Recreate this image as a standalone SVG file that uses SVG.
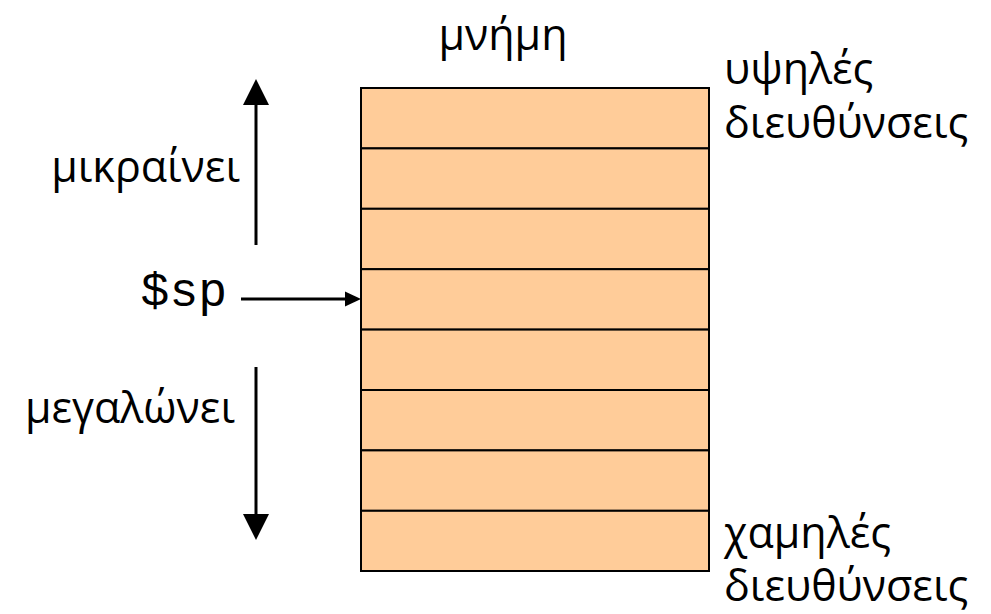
<svg xmlns="http://www.w3.org/2000/svg" width="991" height="614" viewBox="0 0 991 614">
<style>
.t{font-family:"Open Sans","Liberation Sans",sans-serif;font-size:43px;fill:#000}
.m{font-family:"Liberation Mono","Courier New",monospace;font-size:48px;fill:#000}
.cell{fill:#FFCC99;stroke:#000;stroke-width:2}
.ln{stroke:#000;stroke-width:3;fill:none}
</style>
<rect width="991" height="614" fill="#fff"/>
<g id="stack">
<rect class="cell" x="361" y="88" width="348" height="60.4"/>
<rect class="cell" x="361" y="148.4" width="348" height="60.4"/>
<rect class="cell" x="361" y="208.8" width="348" height="60.4"/>
<rect class="cell" x="361" y="269.2" width="348" height="60.4"/>
<rect class="cell" x="361" y="329.6" width="348" height="60.4"/>
<rect class="cell" x="361" y="390" width="348" height="60.4"/>
<rect class="cell" x="361" y="450.4" width="348" height="60.4"/>
<rect class="cell" x="361" y="510.8" width="348" height="60.2"/>
</g>
<g id="labels">
<text class="t" x="503" y="50" text-anchor="middle">μνήμη</text>
<text class="t" x="724" y="84">υψηλές</text>
<text class="t" x="724" y="138">διευθύνσεις</text>
<text class="t" x="724" y="548">χαμηλές</text>
<text class="t" x="724" y="601">διευθύνσεις</text>
<text class="t" x="240" y="182" text-anchor="end">μικραίνει</text>
<text class="t" x="235" y="423" text-anchor="end">μεγαλώνει</text>
<text class="m" x="227" y="306" text-anchor="end">$sp</text>
</g>
<g id="connectors">
<line class="ln" x1="256" y1="245" x2="256" y2="100"/>
<path d="M256,79 L269,105 L243,105 z" fill="#000"/>
<line class="ln" x1="256" y1="367" x2="256" y2="518"/>
<path d="M256,540 L269,514 L243,514 z" fill="#000"/>
<line class="ln" x1="241" y1="299" x2="348" y2="299"/>
<path d="M361,299 L345,291.5 L345,306.5 z" fill="#000"/>
</g>
</svg>
